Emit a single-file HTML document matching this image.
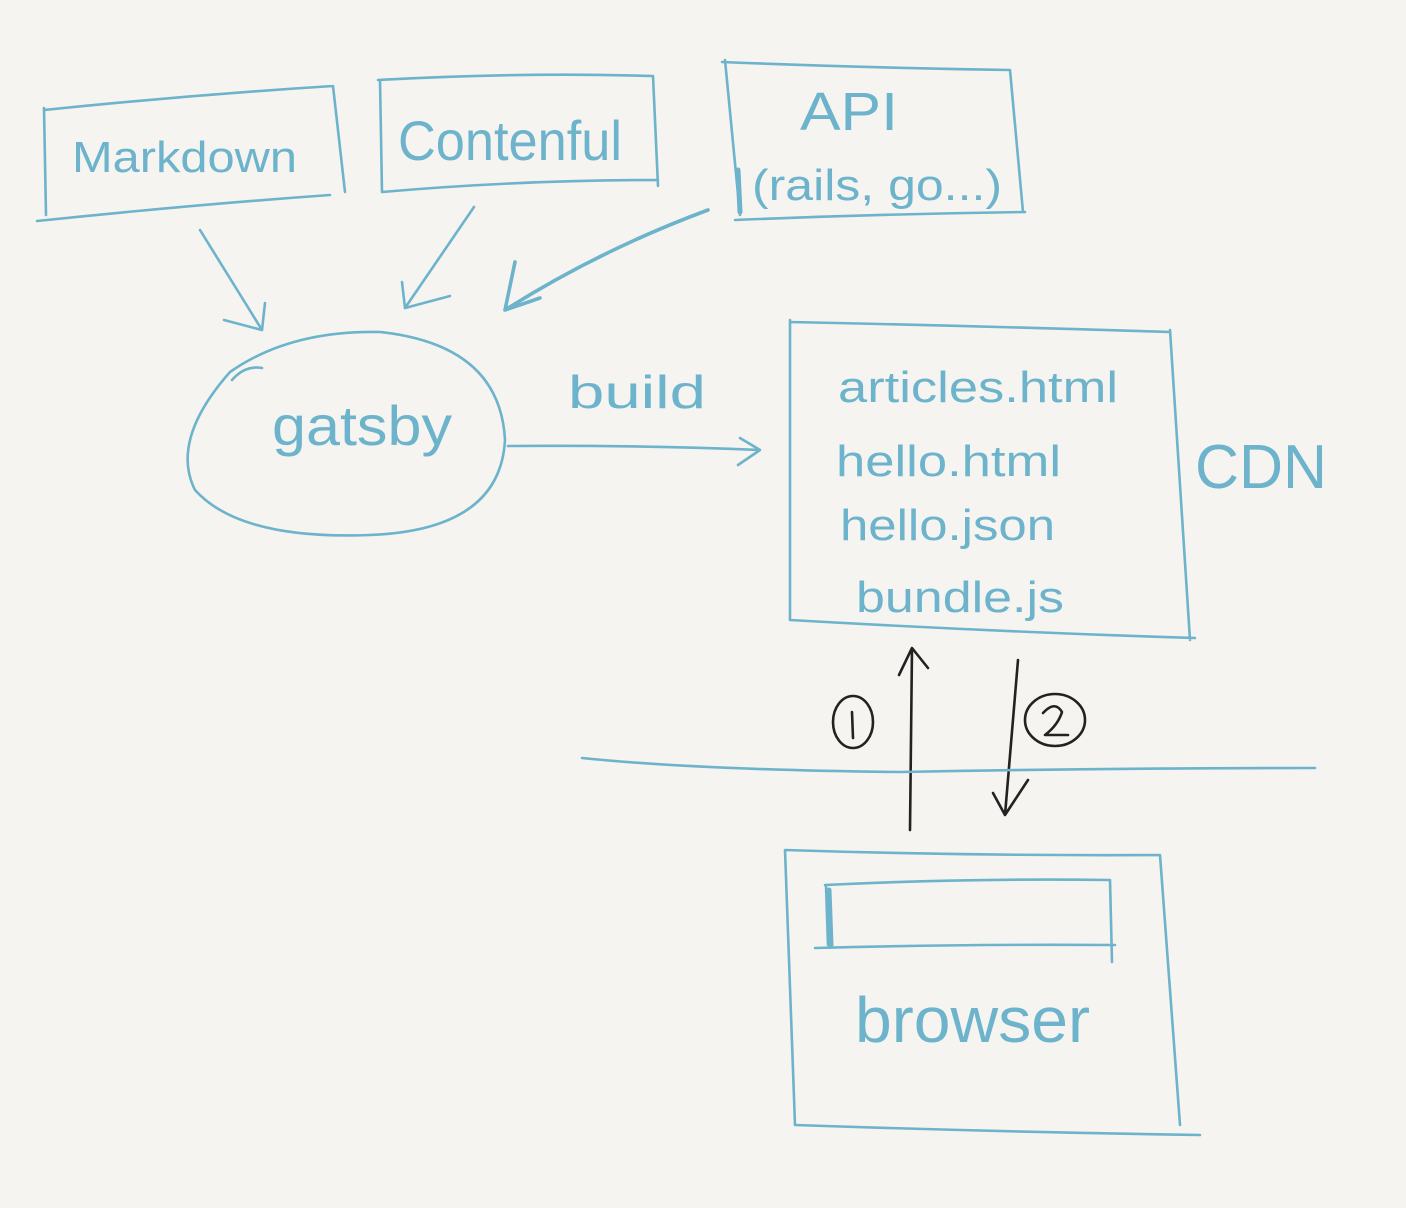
<!DOCTYPE html>
<html><head><meta charset="utf-8"><style>
html,body{margin:0;padding:0;background:#f5f4f0;}
svg{display:block}
.b{fill:none;stroke:#6cb3cb;stroke-width:2.6;stroke-linecap:round;stroke-linejoin:round}
.k{fill:none;stroke:#222;stroke-width:2.6;stroke-linecap:round;stroke-linejoin:round}
text{font-family:"Liberation Sans",sans-serif;fill:#6cb3cb;font-weight:300}
</style></head><body>
<svg width="1406" height="1208" viewBox="0 0 1406 1208">
<rect width="1406" height="1208" fill="#f5f4f0"/>
<!-- Markdown -->
<path class="b" d="M44 110 Q190 95 333 86 M44 108 L46 215 M333 86 L345 192 M37 221 Q190 205 330 195"/>
<text x="72" y="172" font-size="44" textLength="225" lengthAdjust="spacingAndGlyphs">Markdown</text>
<!-- Contentful -->
<path class="b" d="M378 80 Q520 72 653 76 M380 80 L382 192 M653 76 L658 186 M382 192 Q520 180 658 180"/>
<text x="398" y="160" font-size="56" textLength="224" lengthAdjust="spacingAndGlyphs">Contenful</text>
<!-- API -->
<path class="b" d="M722 62 Q870 68 1010 70 M725 60 L740 215 M1010 70 L1023 212 M735 220 Q880 214 1025 212"/>
<path class="b" d="M738 170 L740 212" style="stroke-width:5"/>
<text x="800" y="130" font-size="54" textLength="98" lengthAdjust="spacingAndGlyphs">API</text>
<text x="752" y="200" font-size="44" textLength="250" lengthAdjust="spacingAndGlyphs">(rails, go...)</text>
<!-- arrows to gatsby -->
<path class="b" d="M200 230 L262 330 M224 320 L262 330 L265 303"/>
<path class="b" d="M474 207 L405 308 M402 282 L405 308 L450 296"/>
<path class="b" d="M708 210 Q600 250 505 310 M515 262 L505 310 L540 298" style="stroke-width:3.6"/>
<!-- gatsby -->
<path class="b" d="M230 372 Q290 330 380 332 Q500 345 505 440 Q500 530 370 535 Q240 540 195 490 Q170 440 230 372 M232 380 Q245 365 262 368"/>
<text x="272" y="445" font-size="56" textLength="180" lengthAdjust="spacingAndGlyphs">gatsby</text>
<!-- build -->
<path class="b" d="M508 446 Q640 445 760 450 M740 438 L760 450 L738 465"/>
<text x="568" y="408" font-size="46" textLength="138" lengthAdjust="spacingAndGlyphs">build</text>
<!-- CDN box -->
<path class="b" d="M790 322 Q980 326 1170 332 M790 320 L790 620 M1170 330 L1190 640 M790 620 Q1000 632 1195 638"/>
<text x="838" y="402" font-size="44" textLength="280" lengthAdjust="spacingAndGlyphs">articles.html</text>
<text x="836" y="476" font-size="44" textLength="225" lengthAdjust="spacingAndGlyphs">hello.html</text>
<text x="840" y="540" font-size="44" textLength="215" lengthAdjust="spacingAndGlyphs">hello.json</text>
<text x="856" y="612" font-size="44" textLength="208" lengthAdjust="spacingAndGlyphs">bundle.js</text>
<text x="1195" y="488" font-size="62" textLength="132" lengthAdjust="spacingAndGlyphs">CDN</text>
<!-- black arrows -->
<path class="k" d="M910 830 L912 648 M899 675 L912 648 L928 668"/>
<path class="k" d="M1018 660 L1005 815 M993 793 L1005 815 L1028 780"/>
<ellipse class="k" cx="853" cy="722" rx="20" ry="26"/>
<path class="k" d="M852 712 L853 738"/>
<ellipse class="k" cx="1055" cy="720" rx="30" ry="26"/>
<path class="k" d="M1043 713 Q1055 700 1062 712 Q1058 725 1045 735 L1068 735"/>
<!-- horizon -->
<path class="b" d="M582 758 Q700 770 900 772 Q1100 768 1315 768"/>
<!-- browser -->
<path class="b" d="M785 850 Q970 856 1160 855 M785 850 L795 1125 M1160 855 L1180 1125 M795 1125 Q1000 1132 1200 1135"/>
<path class="b" d="M825 885 Q970 878 1110 880 M826 885 L828 945 M1110 880 L1112 962 M815 948 Q960 944 1115 945"/>
<path class="b" d="M829 890 L831 945" style="stroke-width:5"/>
<text x="855" y="1042" font-size="64" textLength="235" lengthAdjust="spacingAndGlyphs">browser</text>
</svg>
</body></html>
